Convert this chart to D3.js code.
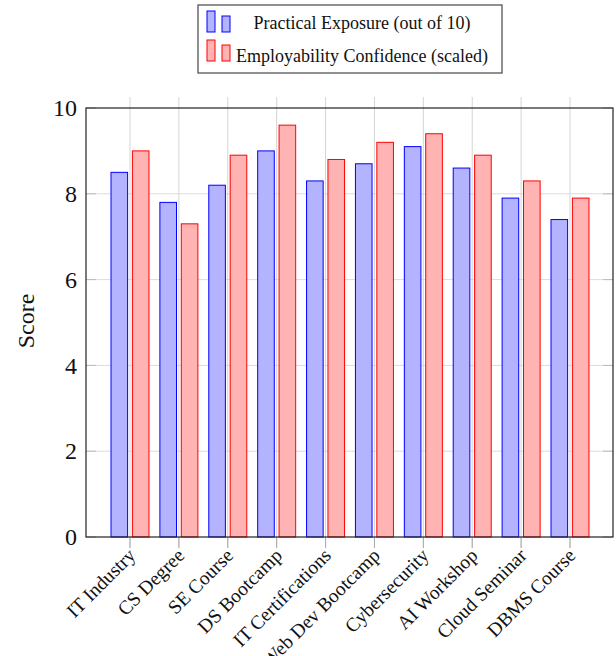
<!DOCTYPE html>
<html><head><meta charset="utf-8">
<script src="https://cdn.jsdelivr.net/npm/d3@7"></script>
<style>body{margin:0;background:#fff}svg{display:block}</style>
</head><body>
<script>
const categories = ["IT Industry","CS Degree","SE Course","DS Bootcamp","IT Certifications","Web Dev Bootcamp","Cybersecurity","AI Workshop","Cloud Seminar","DBMS Course"];
const practicalExposure = [8.5,7.8,8.2,9.0,8.3,8.7,9.1,8.6,7.9,7.4];
const employabilityConfidence = [9.0,7.3,8.9,9.6,8.8,9.2,9.4,8.9,8.3,7.9];
const seriesNames = ["Practical Exposure (out of 10)","Employability Confidence (scaled)"];
const yTicks = [0,2,4,6,8,10];

const W=616,H=656;
const svg=d3.select("body").append("svg").attr("width",W).attr("height",H);
const font="Liberation Serif, Times New Roman, serif";
const L=86,R=613,T=108,B=537;
const x=d3.scalePoint().domain(categories).range([130,570]);
const inner=d3.scaleBand().domain([0,1]).range([-19,19]).paddingInner(0.224);
const y=d3.scaleLinear().domain([0,10]).range([B,T]);
const series=[
 {name:seriesNames[0],values:practicalExposure,fill:"#b3b3ff",stroke:"#0000ff"},
 {name:seriesNames[1],values:employabilityConfidence,fill:"#ffb3b3",stroke:"#ff0000"}];

// grid
svg.append("g").selectAll("line").data(yTicks.filter(d=>d>0&&d<10)).join("line")
 .attr("x1",L).attr("x2",R).attr("y1",d=>y(d)).attr("y2",d=>y(d))
 .attr("stroke","#dcdcdc").attr("stroke-width",1);
svg.append("g").selectAll("line").data(categories).join("line")
 .attr("x1",d=>x(d)).attr("x2",d=>x(d)).attr("y1",97).attr("y2",548)
 .attr("stroke","#d4d4d4").attr("stroke-width",1);
// y ticks inside
const yt=svg.append("g");
yTicks.forEach(d=>{
 yt.append("line").attr("x1",L).attr("x2",L+10).attr("y1",y(d)).attr("y2",y(d)).attr("stroke","#bbb");
 yt.append("line").attr("x1",R-10).attr("x2",R).attr("y1",y(d)).attr("y2",y(d)).attr("stroke","#bbb");
});
// x ticks below
svg.append("g").selectAll("line").data(categories).join("line")
 .attr("x1",d=>x(d)).attr("x2",d=>x(d)).attr("y1",B).attr("y2",548)
 .attr("stroke","#aaa");

// bars
series.forEach((s,i)=>{
 svg.append("g").selectAll("rect").data(categories).join("rect")
  .attr("x",d=>x(d)+inner(i)).attr("width",inner.bandwidth())
  .attr("y",(d,j)=>y(s.values[j])).attr("height",(d,j)=>B-y(s.values[j]))
  .attr("fill",s.fill).attr("stroke",s.stroke).attr("stroke-width",1);
});

// frame
svg.append("rect").attr("x",L).attr("y",T).attr("width",R-L).attr("height",B-T)
 .attr("fill","none").attr("stroke","#222").attr("stroke-width",1.2);

// y labels
svg.append("g").selectAll("text").data(yTicks).join("text")
 .attr("x",77).attr("y",d=>y(d)).attr("dy","0.34em").attr("text-anchor","end")
 .attr("font-family",font).attr("font-size",24).attr("fill","#111").text(d=>d);
svg.append("text").attr("transform","translate(34,321) rotate(-90)")
 .attr("text-anchor","middle").attr("font-family",font).attr("font-size",24).attr("fill","#111").text("Score");

// x labels
svg.append("g").selectAll("text").data(categories).join("text")
 .attr("transform",d=>`translate(${x(d)-3},${547}) rotate(-45)`)
 .attr("text-anchor","end").attr("dy","0.7em")
 .attr("font-family",font).attr("font-size",19.5).attr("fill","#111").text(d=>d);

// legend
const lg=svg.append("g");
lg.append("rect").attr("x",198).attr("y",5).attr("width",304).attr("height",68)
 .attr("fill","#fff").attr("stroke","#555").attr("stroke-width",1.3);
const rows=[{y0:11,y1:16,base:32,txt:29},{y0:40,y1:45,base:61,txt:62}];
series.forEach((s,i)=>{
 const r=rows[i];
 lg.append("rect").attr("x",207).attr("y",r.y0).attr("width",8).attr("height",r.base-r.y0).attr("fill",s.fill).attr("stroke",s.stroke);
 lg.append("rect").attr("x",222).attr("y",r.y1).attr("width",8).attr("height",r.base-r.y1).attr("fill",s.fill).attr("stroke",s.stroke);
 lg.append("text").attr("x",362).attr("y",r.txt).attr("text-anchor","middle")
  .attr("font-family",font).attr("font-size",18).attr("fill","#111").text(s.name);
});
</script>
</body></html>
